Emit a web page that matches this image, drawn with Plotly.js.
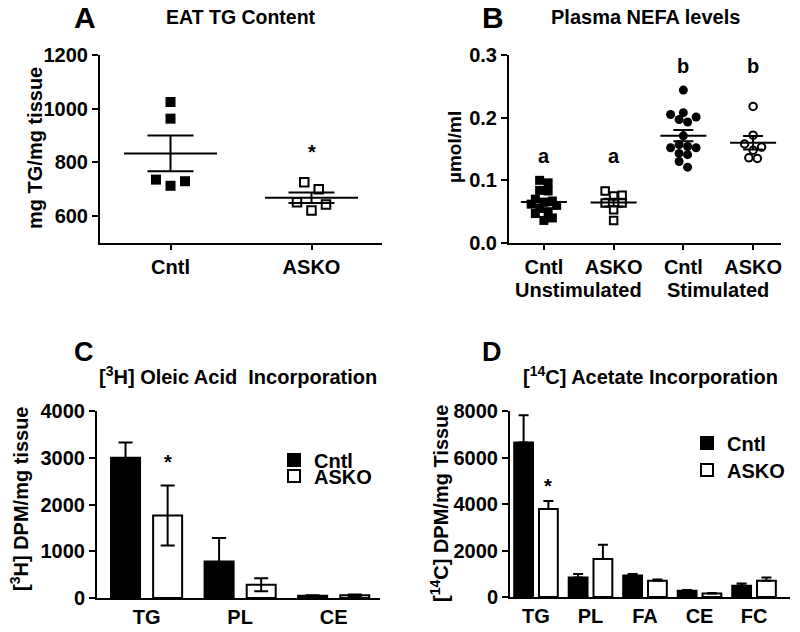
<!DOCTYPE html>
<html><head><meta charset="utf-8">
<script src="https://cdn.plot.ly/plotly-3.0.1.min.js"></script>
<style>html,body{margin:0;padding:0;background:#fff}</style>
</head><body><div id="chart" style="width:800px;height:632px"></div>
<script>
// ---------- DATA ----------
// Panel A: EAT TG content (mg TG / mg tissue)
const catA = ['Cntl', 'ASKO'];
const eatCntl = [1025, 963, 736, 713, 730];
const eatASKO = [726, 700, 652, 621, 643];
const sigA = ['', '*'];

// Panel B: Plasma NEFA levels (umol/ml)
const catB = ['Cntl', 'ASKO', 'Cntl', 'ASKO'];
const groupB = ['Unstimulated', 'Stimulated'];
const nefaCntlUnstim = [0.100, 0.096, 0.084, 0.083, 0.070, 0.067, 0.065, 0.062, 0.060, 0.055, 0.050, 0.047, 0.040, 0.036];
const nefaASKOUnstim = [0.083, 0.076, 0.075, 0.064, 0.064, 0.053, 0.036];
const nefaCntlStim = [0.244, 0.208, 0.205, 0.201, 0.197, 0.193, 0.171, 0.157, 0.154, 0.152, 0.152, 0.143, 0.141, 0.130, 0.121];
const nefaASKOStim = [0.218, 0.172, 0.158, 0.153, 0.148, 0.136, 0.135];
const sigB = ['a', 'a', 'b', 'b'];

// Panel C: [3H] oleic acid incorporation (DPM/mg tissue)
const catC = ['TG', 'PL', 'CE'];
const oleicCntl = [3000, 782, 50];
const oleicCntlSem = [325, 500, 10];
const oleicASKO = [1765, 284, 60];
const oleicASKOSem = [640, 140, 15];
const sigC = ['*', '', ''];

// Panel D: [14C] acetate incorporation (DPM/mg tissue)
const catD = ['TG', 'PL', 'FA', 'CE', 'FC'];
const acetCntl = [6650, 840, 930, 270, 485];
const acetCntlSem = [1170, 150, 57, 30, 100];
const acetASKO = [3790, 1630, 700, 155, 700];
const acetASKOSem = [340, 615, 50, 15, 140];
const sigD = ['*', '', '', '', ''];

const seriesNames = ['Cntl', 'ASKO'];

// ---------- HELPERS ----------
const W = 800, H = 632;
const FONT = 'Liberation Sans, Arial, Helvetica, sans-serif';
const px = p => p / W;
const py = p => 1 - p / H;
const mean = a => a.reduce((s, v) => s + v, 0) / a.length;
const sem = a => { const m = mean(a); return Math.sqrt(a.reduce((s, v) => s + (v - m) * (v - m), 0) / (a.length - 1) / a.length); };

// GraphPad-like column scatter: bin close values into rows, spread each row symmetrically
function swarm(vals, pxPerY, pxPerX, binPx, spacePx) {
  const idx = vals.map((v, i) => i).sort((a, b) => vals[a] - vals[b]);
  const off = new Array(vals.length).fill(0);
  let i = 0;
  while (i < idx.length) {
    const start = vals[idx[i]];
    const bin = [idx[i]]; let j = i + 1;
    while (j < idx.length && (vals[idx[j]] - start) * pxPerY < binPx) { bin.push(idx[j]); j++; }
    const n = bin.length;
    bin.forEach((k, m) => {
      let pos;
      if (n % 2 === 1) pos = m === 0 ? 0 : (m % 2 === 1 ? (m + 1) / 2 : -m / 2);
      else { const r = Math.floor(m / 2) + 0.5; pos = (m % 2 === 0) ? r : -r; }
      off[k] = pos * spacePx / pxPerX;
    });
    i = j;
  }
  return off;
}

// ---------- LAYOUT GEOMETRY ----------
const domA = {x: [100, 382], y: [55, 243]};
const domB = {x: [509, 781], y: [55, 243]};
const domC = {x: [97, 380], y: [411, 598]};
const domD = {x: [510, 790], y: [411, 597]};
const rangeAx = [-0.5, 1.5], rangeAy = [500, 1200];
const rangeBx = [-0.5, 3.4], rangeBy = [0, 0.3];
const rangeCx = [-0.53, 2.495], rangeCy = [0, 4000];
const rangeDx = [-0.477, 4.66], rangeDy = [0, 8000];

const scale = (dom, rx, ry) => ({
  pxPerX: (dom.x[1] - dom.x[0]) / (rx[1] - rx[0]),
  pxPerY: (dom.y[1] - dom.y[0]) / (ry[1] - ry[0])
});
const sA = scale(domA, rangeAx, rangeAy);
const sB = scale(domB, rangeBx, rangeBy);

const traces = [];

// ---------- PANEL A ----------
const groupsA = [eatCntl, eatASKO];
const symA = ['square', 'square-open'];
groupsA.forEach((g, gi) => {
  const off = swarm(g, sA.pxPerY, sA.pxPerX, 10, 14.5);
  traces.push({
    type: 'scatter', mode: 'markers', xaxis: 'x', yaxis: 'y', showlegend: false,
    x: g.map((v, i) => gi + off[i]), y: g,
    marker: {symbol: symA[gi], size: gi === 0 ? 10 : 8.5, color: 'black', line: {color: 'black', width: gi === 0 ? 0 : 2}}
  });
});
traces.push({
  type: 'scatter', mode: 'markers', xaxis: 'x', yaxis: 'y', showlegend: false,
  x: catA.map((c, i) => i), y: groupsA.map(mean),
  marker: {size: 1, color: 'rgba(0,0,0,0)'},
  error_x: {type: 'constant', value: 0.33, width: 0, thickness: 2, color: 'black'},
  error_y: {type: 'data', array: groupsA.map(sem), width: 23, thickness: 2, color: 'black'}
});

// ---------- PANEL B ----------
const groupsB = [nefaCntlUnstim, nefaASKOUnstim, nefaCntlStim, nefaASKOStim];
const symB = ['square', 'square-open', 'circle', 'circle-open'];
groupsB.forEach((g, gi) => {
  const off = swarm(g, sB.pxPerY, sB.pxPerX, 8, 8.5);
  const open = symB[gi].indexOf('open') > 0;
  traces.push({
    type: 'scatter', mode: 'markers', xaxis: 'x2', yaxis: 'y2', showlegend: false,
    x: g.map((v, i) => gi + off[i]), y: g,
    marker: {symbol: symB[gi], size: open ? 7.5 : 9, color: 'black', line: {color: 'black', width: open ? 2 : 0}}
  });
});
traces.push({
  type: 'scatter', mode: 'markers', xaxis: 'x2', yaxis: 'y2', showlegend: false,
  x: catB.map((c, i) => i), y: groupsB.map(mean),
  marker: {size: 1, color: 'rgba(0,0,0,0)'},
  error_x: {type: 'constant', value: 0.33, width: 0, thickness: 2, color: 'black'},
  error_y: {type: 'data', array: groupsB.map(sem), width: 10, thickness: 2, color: 'black'}
});

// ---------- PANEL C ----------
const barC = {w: 0.31, off: [-0.38, 0.07]};
[[oleicCntl, oleicCntlSem], [oleicASKO, oleicASKOSem]].forEach((s, si) => {
  traces.push({
    type: 'bar', xaxis: 'x3', yaxis: 'y3', name: seriesNames[si], legend: si === 0 ? 'legend' : 'legend2',
    x: catC, y: s[0], width: barC.w, offset: barC.off[si],
    marker: {color: si === 0 ? 'black' : 'white', line: {color: 'black', width: 2}},
    error_y: {type: 'data', array: s[1], color: 'black', thickness: 2, width: 7}
  });
});

// ---------- PANEL D ----------
const barD = {w: 0.345, off: [-0.40, 0.055]};
[[acetCntl, acetCntlSem], [acetASKO, acetASKOSem]].forEach((s, si) => {
  traces.push({
    type: 'bar', xaxis: 'x4', yaxis: 'y4', name: seriesNames[si], legend: si === 0 ? 'legend3' : 'legend4',
    x: catD, y: s[0], width: barD.w, offset: barD.off[si],
    marker: {color: si === 0 ? 'black' : 'white', line: {color: 'black', width: 2}},
    error_y: {type: 'data', symmetric: false, array: s[1], arrayminus: s[1].map(() => 0), color: 'black', thickness: 2, width: 5}
  });
});

// ---------- AXES ----------
const tickfont = {family: FONT, size: 20, weight: 'bold', color: 'black'};
const axBase = {showline: true, linecolor: 'black', linewidth: 2, ticks: 'outside', tickcolor: 'black',
  tickwidth: 2, ticklen: 6, showgrid: false, zeroline: false, tickfont: tickfont, automargin: false};
const xd = d => [px(d.x[0]), px(d.x[1])];
const yd = d => [py(d.y[1]), py(d.y[0])];

const layout = {
  width: W, height: H, margin: {l: 0, r: 0, t: 0, b: 0},
  paper_bgcolor: 'white', plot_bgcolor: 'white', barmode: 'overlay',
  font: {family: FONT, color: 'black'},
  xaxis: Object.assign({}, axBase, {domain: xd(domA), range: rangeAx, tickvals: catA.map((c, i) => i), ticktext: catA, anchor: 'y', ticklen: 5}),
  yaxis: Object.assign({}, axBase, {domain: yd(domA), range: rangeAy, tickvals: [600, 800, 1000, 1200], anchor: 'x'}),
  xaxis2: Object.assign({}, axBase, {domain: xd(domB), range: rangeBx, tickvals: catB.map((c, i) => i), ticktext: catB, anchor: 'y2', ticklen: 5}),
  yaxis2: Object.assign({}, axBase, {domain: yd(domB), range: rangeBy, tickvals: [0, 0.1, 0.2, 0.3], tickformat: '.1f', anchor: 'x2'}),
  xaxis3: Object.assign({}, axBase, {domain: xd(domC), range: rangeCx, anchor: 'y3', ticks: ''}),
  yaxis3: Object.assign({}, axBase, {domain: yd(domC), range: rangeCy, dtick: 1000, anchor: 'x3'}),
  xaxis4: Object.assign({}, axBase, {domain: xd(domD), range: rangeDx, anchor: 'y4', ticks: ''}),
  yaxis4: Object.assign({}, axBase, {domain: yd(domD), range: rangeDy, dtick: 2000, anchor: 'x4'}),
  annotations: []
};

// legends (one per row so row spacing can follow the figure)
const legBase = {xanchor: 'left', yanchor: 'middle', bgcolor: 'rgba(0,0,0,0)', borderwidth: 0,
  font: {family: FONT, size: 20, weight: 'bold', color: 'black'}, itemclick: false, itemdoubleclick: false};
layout.legend = Object.assign({}, legBase, {x: px(274), y: py(460)});
layout.legend2 = Object.assign({}, legBase, {x: px(274), y: py(476)});
layout.legend3 = Object.assign({}, legBase, {x: px(687), y: py(443)});
layout.legend4 = Object.assign({}, legBase, {x: px(687), y: py(470)});

// ---------- ANNOTATIONS ----------
const ann = layout.annotations;
const txt = (text, x, y, size, extra) => ann.push(Object.assign({text: text, xref: 'paper', yref: 'paper', x: x, y: y,
  xanchor: 'center', yanchor: 'middle', showarrow: false, font: {family: FONT, size: size, weight: 'bold', color: 'black'}}, extra || {}));

txt('A', px(72), py(17), 30, {xanchor: 'left'});
txt('B', px(480), py(17), 30, {xanchor: 'left'});
txt('C', px(72), py(352), 27, {xanchor: 'left'});
txt('D', px(480), py(352), 27, {xanchor: 'left'});
txt('EAT TG Content', px((domA.x[0] + domA.x[1]) / 2), py(17), 19.5);
txt('Plasma NEFA levels', px((domB.x[0] + domB.x[1]) / 2), py(17), 20);
txt('[<sup>3</sup>H] Oleic Acid\u00A0\u00A0Incorporation', px((domC.x[0] + domC.x[1]) / 2), py(375), 20);
txt('[<sup>14</sup>C] Acetate Incorporation', px((domD.x[0] + domD.x[1]) / 2), py(375), 20);

// y-axis titles
txt('mg TG/mg tissue', px(35), py(148), 20, {textangle: -90});
txt('µmol/ml', px(454), py(147), 19, {textangle: -90});
txt('[<sup>3</sup>H] DPM/mg tissue', px(19), py(499), 20, {textangle: -90});
txt('[<sup>14</sup>C] DPM/mg Tissue', px(439), py(503), 20, {textangle: -90});

// significance marks
const sigFont = {family: FONT, size: 20, weight: 'bold', color: 'black'};
sigA.forEach((s, i) => { if (s) ann.push({text: s, xref: 'x', yref: 'y', x: i, y: Math.max(...groupsA[i]), yshift: 30,
  showarrow: false, font: sigFont}); });
sigB.forEach((s, i) => {
  const pair = Math.floor(i / 2) * 2;
  const top = Math.max(...groupsB[pair], ...groupsB[pair + 1]);
  ann.push({text: s, xref: 'x2', yref: 'y2', x: i, y: top, yshift: 24, showarrow: false, font: sigFont});
});
sigC.forEach((s, i) => { if (s) ann.push({text: s, xref: 'x3', yref: 'y3', x: i + barC.off[1] + barC.w / 2,
  y: oleicASKO[i] + oleicASKOSem[i], yshift: 24, showarrow: false, font: sigFont}); });
sigD.forEach((s, i) => { if (s) ann.push({text: s, xref: 'x4', yref: 'y4', x: i + barD.off[1] + barD.w / 2,
  y: acetASKO[i] + acetASKOSem[i], yshift: 15, showarrow: false, font: sigFont}); });

// group labels under panel B
groupB.forEach((g, k) => ann.push({text: g, xref: 'x2', yref: 'paper', x: 2 * k + 0.5, y: py(290), yanchor: 'middle',
  showarrow: false, font: sigFont}));

Plotly.newPlot('chart', traces, layout, {staticPlot: true, displayModeBar: false}).then(gd => {
  // enlarge legend swatches to the figure's box size
  gd.querySelectorAll('.legendbar').forEach(p => p.setAttribute('d', 'M10.5,8H-10.5V-8H10.5Z'));
});
</script></body></html>
